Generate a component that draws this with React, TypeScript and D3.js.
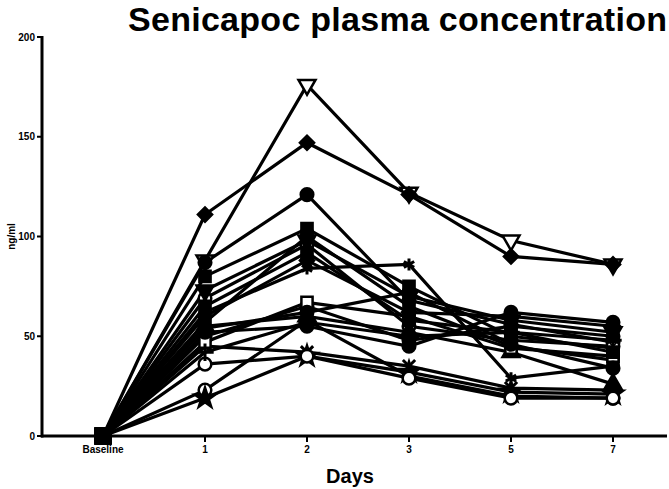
import React from "react";
import * as d3 from "d3";

const categories = ["Baseline", "1", "2", "3", "5", "7"];
const yTicks = [0, 50, 100, 150, 200];

// one array per patient, values in ng/ml at each visit
const triDownOpen = [0, 88, 176, 122, 98, 86];
const diamondFilled = [0, 111, 147, 121, 90, 86];
const circleFilled = [0, 87, 121, 68, 56, 47];
const squareFilled = [0, 80, 104, 75, 50, 44];
const squareFilled2 = [0, 57, 100, 65, 45, 38];
const asterisk = [0, 62, 84, 86, 29, 35];
const circleCross = [0, 69, 96, 55, 48, 45];
const circleOpen = [0, 23, 58, 30, 20, 19];
const star = [0, 19, 40, 32, 22, 21];
const times = [0, 45, 42, 35, 24, 23];
const circleOpen2 = [0, 36, 40, 29, 19, 19];
const hexFilled = [0, 50, 65, 48, 55, 50];
const triUpFilled = [0, 55, 60, 52, 42, 26];
const squareOpen = [0, 47, 67, 60, 44, 40];
const diamond2 = [0, 60, 88, 62, 60, 55];
const circleFilled2 = [0, 52, 55, 45, 62, 57];
const triDownFilled = [0, 73, 98, 70, 58, 52];
const plus = [0, 42, 57, 50, 52, 48];
const squareFilled3 = [0, 65, 92, 58, 52, 42];
const circleFilled3 = [0, 54, 62, 72, 46, 34];

type Series = { values: number[]; shape: d3.SymbolType; fill: boolean; rotate?: number; cross?: boolean };

const series: Series[] = [
  { values: triDownOpen, shape: d3.symbolTriangle, fill: false, rotate: 180 },
  { values: diamondFilled, shape: d3.symbolSquare, fill: true, rotate: 45 },
  { values: circleFilled, shape: d3.symbolCircle, fill: true },
  { values: squareFilled, shape: d3.symbolSquare, fill: true },
  { values: squareFilled2, shape: d3.symbolSquare, fill: true },
  { values: asterisk, shape: d3.symbolAsterisk, fill: false },
  { values: circleCross, shape: d3.symbolCircle, fill: false, cross: true },
  { values: circleOpen, shape: d3.symbolCircle, fill: false },
  { values: star, shape: d3.symbolStar, fill: true },
  { values: times, shape: d3.symbolTimes, fill: false },
  { values: circleOpen2, shape: d3.symbolCircle, fill: false },
  { values: hexFilled, shape: d3.symbolCircle, fill: true },
  { values: triUpFilled, shape: d3.symbolTriangle, fill: true },
  { values: squareOpen, shape: d3.symbolSquare, fill: false },
  { values: diamond2, shape: d3.symbolSquare, fill: true, rotate: 45 },
  { values: circleFilled2, shape: d3.symbolCircle, fill: true },
  { values: triDownFilled, shape: d3.symbolTriangle, fill: true, rotate: 180 },
  { values: plus, shape: d3.symbolPlus, fill: false },
  { values: squareFilled3, shape: d3.symbolSquare, fill: true },
  { values: circleFilled3, shape: d3.symbolCircle, fill: true },
];

const width = 669;
const height = 489;
const font = "'Liberation Sans', Arial, Helvetica, sans-serif";

const App = () => {
  const x = d3.scalePoint<string>().domain(categories).range([103, 613]);
  const y = d3.scaleLinear().domain([0, 200]).range([436, 37]);

  const line = d3
    .line<number>()
    .x((_, i) => x(categories[i]) as number)
    .y((d) => y(d));

  return (
    <svg width={width} height={height} style={{ position: "absolute", left: 0, top: 0 }}>
      <rect width={width} height={height} fill="#fff" />
      <text x={128} y={31} fontFamily={font} fontWeight="bold" fontSize={34} textLength={539}>
        Senicapoc plasma concentration
      </text>

      {/* lines */}
      {series.map((s, i) => (
        <path key={"l" + i} d={line(s.values) || ""} fill="none" stroke="#000" strokeWidth={3.2} />
      ))}

      {/* markers */}
      {series.map((s, i) =>
        s.values.map((v, j) => {
          const isStroke = s.shape === d3.symbolTimes || s.shape === d3.symbolPlus || s.shape === d3.symbolAsterisk;
          const size = j === 0 ? 200 : isStroke ? 100 : s.rotate === 45 ? 100 : 125;
          const p = d3.symbol().type(j === 0 ? d3.symbolSquare : s.shape).size(size)() || "";
          const filled = j === 0 ? true : s.fill && !isStroke;
          return (
            <g
              key={"m" + i + "-" + j}
              transform={`translate(${x(categories[j])},${y(v)}) rotate(${j === 0 ? 0 : s.rotate || 0})`}
            >
              <path d={p} fill={filled ? "#000" : "#fff"} stroke="#000" strokeWidth={isStroke ? 3 : 2.5} />
              {s.cross && j > 0 && (
                <path d={d3.symbol().type(d3.symbolTimes).size(45)() || ""} stroke="#000" strokeWidth={1.5} />
              )}
            </g>
          );
        })
      )}

      {/* y axis */}
      <line x1={42} x2={42} y1={y(200) - 1} y2={y(0) + 1.5} stroke="#000" strokeWidth={3} />
      {yTicks.map((t) => (
        <g key={"yt" + t}>
          <line x1={37} x2={42} y1={y(t)} y2={y(t)} stroke="#000" strokeWidth={2} />
          <text x={35} y={y(t) + 3.5} textAnchor="end" fontFamily={font} fontWeight="bold" fontSize={10}>
            {t}
          </text>
        </g>
      ))}
      <text
        transform={`translate(15,${(y(0) + y(200)) / 2}) rotate(-90)`}
        textAnchor="middle"
        fontFamily={font}
        fontWeight="bold"
        fontSize={10}
      >
        ng/ml
      </text>

      {/* x axis */}
      <line x1={41} x2={667} y1={y(0)} y2={y(0)} stroke="#000" strokeWidth={3} />
      {categories.map((c) => (
        <g key={"xt" + c}>
          <line x1={x(c)} x2={x(c)} y1={y(0)} y2={y(0) + 6} stroke="#000" strokeWidth={2} />
          <text x={x(c)} y={y(0) + 17} textAnchor="middle" fontFamily={font} fontWeight="bold" fontSize={10}>
            {c}
          </text>
        </g>
      ))}
      <text x={350} y={483} textAnchor="middle" fontFamily={font} fontWeight="bold" fontSize={20}>
        Days
      </text>
    </svg>
  );
};

export default App;
